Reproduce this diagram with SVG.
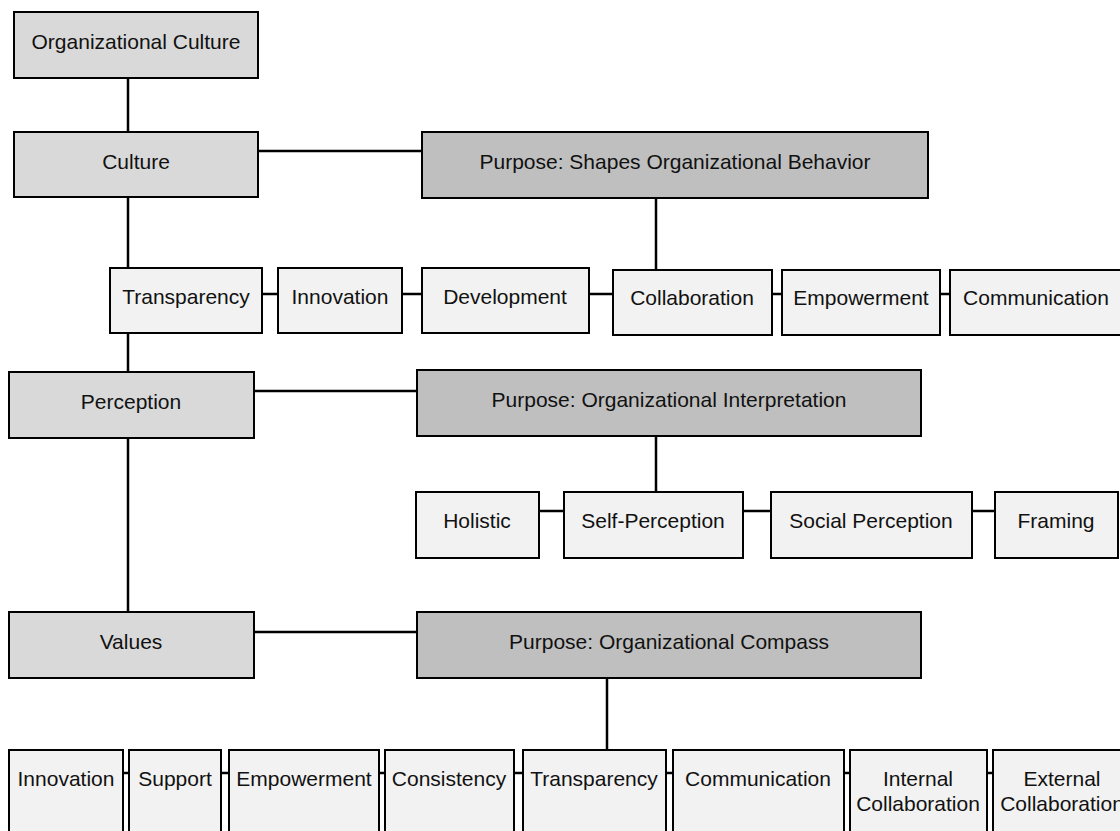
<svg xmlns="http://www.w3.org/2000/svg" width="1120" height="831" viewBox="0 0 1120 831">
  <style>
    .box rect { stroke: #000; stroke-width: 2; }
    .main rect { fill: #d9d9d9; }
    .purpose rect { fill: #bfbfbf; }
    .leaf rect { fill: #f2f2f2; }
    text { font-family: "Liberation Sans", Arial, sans-serif; font-size: 21px; fill: #111; text-anchor: middle; }
    #connectors line { stroke: #000; stroke-width: 2.5; }
  </style>
  <rect width="1120" height="831" fill="#ffffff"/>

  <!-- connectors -->
  <g id="connectors">
    <!-- main spine -->
    <line x1="128" y1="78" x2="128" y2="132"/>
    <line x1="128" y1="197" x2="128" y2="268"/>
    <line x1="128" y1="333" x2="128" y2="372"/>
    <line x1="128" y1="438" x2="128" y2="612"/>
    <!-- concept to purpose -->
    <line x1="258" y1="151" x2="422" y2="151"/>
    <line x1="254" y1="391" x2="417" y2="391"/>
    <line x1="254" y1="632" x2="417" y2="632"/>
    <!-- purpose to children -->
    <line x1="656" y1="198" x2="656" y2="270"/>
    <line x1="656" y1="436" x2="656" y2="492"/>
    <line x1="607" y1="678" x2="607" y2="750"/>
    <!-- row 1 chain -->
    <line x1="262" y1="294" x2="278" y2="294"/>
    <line x1="402" y1="294" x2="422" y2="294"/>
    <line x1="589" y1="294" x2="613" y2="294"/>
    <line x1="772" y1="294" x2="782" y2="294"/>
    <line x1="940" y1="294" x2="950" y2="294"/>
    <!-- row 2 chain -->
    <line x1="539" y1="511" x2="564" y2="511"/>
    <line x1="743" y1="511" x2="771" y2="511"/>
    <line x1="972" y1="511" x2="995" y2="511"/>
    <!-- row 3 chain -->
    <line x1="123" y1="773" x2="129" y2="773"/>
    <line x1="221" y1="773" x2="229" y2="773"/>
    <line x1="379" y1="773" x2="385" y2="773"/>
    <line x1="514" y1="773" x2="523" y2="773"/>
    <line x1="666" y1="773" x2="673" y2="773"/>
    <line x1="844" y1="773" x2="850" y2="773"/>
    <line x1="987" y1="773" x2="993" y2="773"/>
  </g>

  <!-- top and concept nodes -->
  <g id="organizational-culture" class="box main">
    <rect x="14" y="12" width="244" height="66"/>
    <text x="136" y="49">Organizational Culture</text>
  </g>
  <g id="culture" class="box main">
    <rect x="14" y="132" width="244" height="65"/>
    <text x="136" y="169">Culture</text>
  </g>
  <g id="purpose-behavior" class="box purpose">
    <rect x="422" y="132" width="506" height="66"/>
    <text x="675" y="169">Purpose: Shapes Organizational Behavior</text>
  </g>

  <!-- culture traits -->
  <g id="c-transparency" class="box leaf">
    <rect x="110" y="268" width="152" height="65"/>
    <text x="186" y="304">Transparency</text>
  </g>
  <g id="c-innovation" class="box leaf">
    <rect x="278" y="268" width="124" height="65"/>
    <text x="340" y="304">Innovation</text>
  </g>
  <g id="c-development" class="box leaf">
    <rect x="422" y="268" width="167" height="65"/>
    <text x="505" y="304">Development</text>
  </g>
  <g id="c-collaboration" class="box leaf">
    <rect x="613" y="270" width="159" height="65"/>
    <text x="692" y="305">Collaboration</text>
  </g>
  <g id="c-empowerment" class="box leaf">
    <rect x="782" y="270" width="158" height="65"/>
    <text x="861" y="305">Empowerment</text>
  </g>
  <g id="c-communication" class="box leaf">
    <rect x="950" y="270" width="173" height="65"/>
    <text x="1036" y="305">Communication</text>
  </g>

  <!-- perception -->
  <g id="perception" class="box main">
    <rect x="9" y="372" width="245" height="66"/>
    <text x="131" y="409">Perception</text>
  </g>
  <g id="purpose-interpretation" class="box purpose">
    <rect x="417" y="370" width="504" height="66"/>
    <text x="669" y="407">Purpose: Organizational Interpretation</text>
  </g>
  <g id="p-holistic" class="box leaf">
    <rect x="416" y="492" width="123" height="66"/>
    <text x="477" y="528">Holistic</text>
  </g>
  <g id="p-self" class="box leaf">
    <rect x="564" y="492" width="179" height="66"/>
    <text x="653" y="528">Self-Perception</text>
  </g>
  <g id="p-social" class="box leaf">
    <rect x="771" y="492" width="201" height="66"/>
    <text x="871" y="528">Social Perception</text>
  </g>
  <g id="p-framing" class="box leaf">
    <rect x="995" y="492" width="123" height="66"/>
    <text x="1056" y="528">Framing</text>
  </g>

  <!-- values -->
  <g id="values" class="box main">
    <rect x="9" y="612" width="245" height="66"/>
    <text x="131" y="649">Values</text>
  </g>
  <g id="purpose-compass" class="box purpose">
    <rect x="417" y="612" width="504" height="66"/>
    <text x="669" y="649">Purpose: Organizational Compass</text>
  </g>
  <g id="v-innovation" class="box leaf">
    <rect x="9" y="750" width="114" height="100"/>
    <text x="66" y="786">Innovation</text>
  </g>
  <g id="v-support" class="box leaf">
    <rect x="129" y="750" width="92" height="100"/>
    <text x="175" y="786">Support</text>
  </g>
  <g id="v-empowerment" class="box leaf">
    <rect x="229" y="750" width="150" height="100"/>
    <text x="304" y="786">Empowerment</text>
  </g>
  <g id="v-consistency" class="box leaf">
    <rect x="385" y="750" width="129" height="100"/>
    <text x="449" y="786">Consistency</text>
  </g>
  <g id="v-transparency" class="box leaf">
    <rect x="523" y="750" width="143" height="100"/>
    <text x="594" y="786">Transparency</text>
  </g>
  <g id="v-communication" class="box leaf">
    <rect x="673" y="750" width="171" height="100"/>
    <text x="758" y="786">Communication</text>
  </g>
  <g id="v-internal" class="box leaf">
    <rect x="850" y="750" width="137" height="100"/>
    <text x="918" y="786">Internal</text>
    <text x="918" y="811">Collaboration</text>
  </g>
  <g id="v-external" class="box leaf">
    <rect x="993" y="750" width="138" height="100"/>
    <text x="1062" y="786">External</text>
    <text x="1062" y="811">Collaboration</text>
  </g>
</svg>
